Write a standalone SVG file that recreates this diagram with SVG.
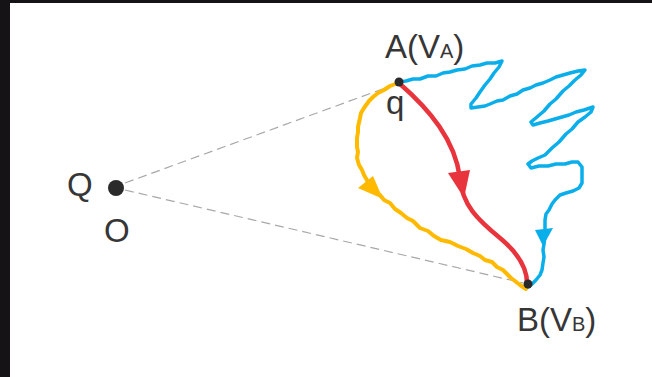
<svg xmlns="http://www.w3.org/2000/svg" width="652" height="377" viewBox="0 0 652 377">
<style>
text{font-family:"Liberation Sans",Arial,sans-serif;fill:#363636;}
.lbl{font-size:33px;}
.sub{font-size:20px;}
.dash{stroke:#a8a8a8;stroke-width:1.2;stroke-dasharray:9 5;fill:none;}
.hand{fill:none;stroke-linecap:round;stroke-linejoin:round;}
.dot{fill:#2a2a2a;}
</style>
<rect x="0" y="0" width="652" height="377" fill="#ffffff"/>
<rect x="0" y="0" width="10" height="377" fill="#151316"/>
<rect x="0" y="0" width="652" height="3" fill="#151316"/>

<g id="connectors">
  <line class="dash" x1="125" y1="183" x2="388" y2="87"/>
  <line class="dash" x1="125" y1="190" x2="523" y2="283"/>
  <g id="path-red">
    <path class="hand" stroke="#e8343c" stroke-width="4.5" d="M399,83 C430,110 455,140 460,178 C462,205 478,220 500,238 C518,253 527,268 527,283"/>
    <polygon fill="#e8343c" points="448,173 470,170 464,198"/>
  </g>
  <g id="path-yellow">
    <polyline class="hand" stroke="#ffba00" stroke-width="4" points="398,83 390,86 384,90 378,93 373,97 369,101 364,108 361,113 360,118 358,127 358,132 357,138 357,147 358,152 357,158 359,165 362,170 364,175 368,182 372,186 375,191 380,195 384,200 390,203 395,209 401,213 407,218 413,221 420,228 428,231 434,236 441,240 450,242 458,246 466,249 473,253 480,256 485,260 492,262 497,267 503,270 507,274 511,278 515,281 520,285 526,289"/>
    <polygon fill="#ffba00" points="358,188 373,176 383,199"/>
  </g>
  <g id="path-blue">
    <polyline class="hand" stroke="#0aaeea" stroke-width="3.5" points="399,82 406,81 413,79 420,79 428,76 436,76 443,73 450,72 457,70 465,69 472,66 480,65 487,63 495,63 502,61 499,67 494,73 490,79 485,85 480,92 476,98 471,104 471,108 478,107 485,106 490,104 497,101 503,100 510,96 517,94 523,90 530,88 536,85 543,83 550,80 556,77 563,75 570,73 578,71 585,70 581,75 575,80 569,86 563,91 556,99 550,104 544,111 537,117 531,122 533,125 540,123 548,121 555,119 562,117 569,115 576,112 584,110 593,107 591,112 585,117 578,122 572,129 566,134 559,142 552,148 545,155 538,158 532,161 528,164 531,168 539,166 548,166 556,164 565,164 572,162 578,162 582,167 582,175 582,183 579,188 573,191 566,193 560,195 555,200 552,204 549,210 546,214 545,220 545,227 545,236 544,244 543,250 544,257 543,263 542,270 540,275 536,280 532,284 528,287"/>
    <polygon fill="#0aaeea" points="535,230 553,228 543,246"/>
  </g>
</g>

<g id="Q">
  <circle class="dot" cx="116" cy="188" r="8"/>
  <text class="lbl" x="67" y="196">Q</text>
  <text class="lbl" x="104" y="242">O</text>
</g>

<g id="A">
  <circle class="dot" cx="399" cy="82" r="4.5"/>
  <text class="lbl" x="385" y="58">A(V<tspan class="sub">A</tspan>)</text>
  <text class="lbl" x="386" y="114">q</text>
</g>

<g id="B">
  <circle class="dot" cx="528" cy="284" r="4.5"/>
  <text class="lbl" x="517" y="331">B(V<tspan class="sub">B</tspan>)</text>
</g>
</svg>
